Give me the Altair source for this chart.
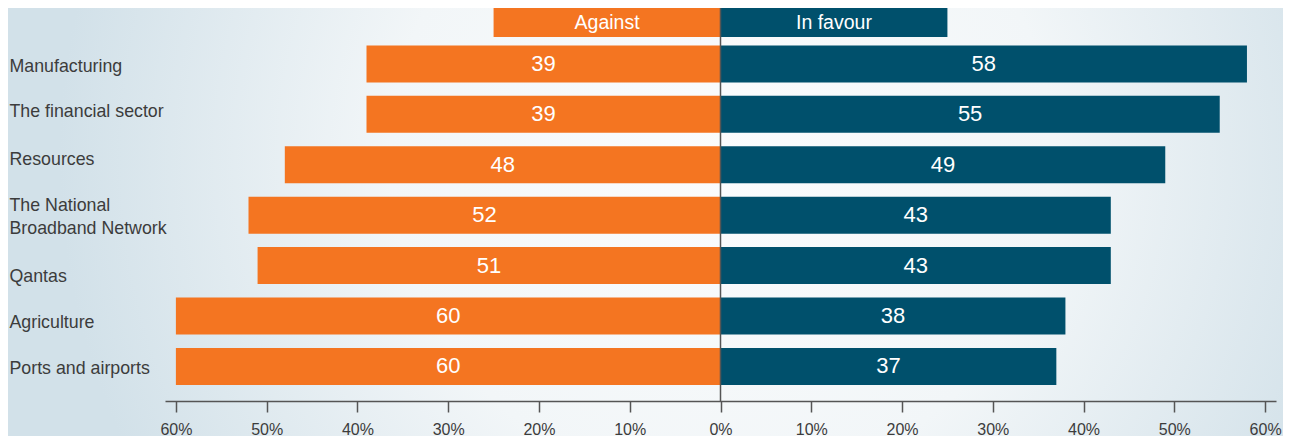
import altair as alt
import pandas as pd

categories = ["Manufacturing", "The financial sector", "Resources",
              "The National\nBroadband Network", "Qantas", "Agriculture",
              "Ports and airports"]
against = [39, 39, 48, 52, 51, 60, 60]
in_favour = [58, 55, 49, 43, 43, 38, 37]
sides = ["Against", "In favour"]
legend_values = [-25, 25]
tick_values = [-60, -50, -40, -30, -20, -10, 0, 10, 20, 30, 40, 50, 60]

ORANGE = "#F47521"
TEAL = "#00506C"
FONT = "Liberation Sans"

rows = []
for c, a, f in zip(categories, against, in_favour):
    rows.append({"category": c, "side": "Against", "value": a, "signed": -a})
    rows.append({"category": c, "side": "In favour", "value": f, "signed": f})
df = pd.DataFrame(rows)
leg = pd.DataFrame({"side": sides, "value": legend_values})

W, H = 1111, 393
PAD = {"left": 157, "top": 0, "right": 7, "bottom": 35}

xscale = alt.Scale(domain=[-61.2, 61.2], nice=False, zero=True)
color = alt.Color("side:N", scale=alt.Scale(domain=sides, range=[ORANGE, TEAL]), legend=None)

label_offset = {
    "condition": [
        {"test": "datum.value === 'Qantas'", "value": 11},
        {"test": "datum.value === 'Agriculture'", "value": 7},
        {"test": "datum.value === 'Resources'", "value": -5},
        {"test": "datum.value === 'The financial sector'", "value": -2},
        {"test": "datum.value === 'The National\\nBroadband Network'", "value": -9},
    ],
    "value": 3,
}

yenc = alt.Y(
    "category:N", sort=categories,
    scale=alt.Scale(paddingInner=0.266, paddingOuter=0.53, align=0.70),
    axis=alt.Axis(
        title=None, domain=False, ticks=False, grid=False, zindex=1,
        labelAlign="left", labelBaseline="middle", labelPadding=156,
        labelFont=FONT, labelFontSize=17.8, labelColor="#3c3c3c",
        labelLineHeight=23, labelExpr="split(datum.label, '\\n')",
        labelOffset=label_offset, labelLimit=300,
    ),
)

xaxis = alt.Axis(
    title=None, values=tick_values, grid=False, zindex=1,
    labelExpr="abs(datum.value) + '%'", labelFlush=False,
    labelFont=FONT, labelFontSize=16, labelColor="#3c3c3c", labelPadding=9,
    tickSize=11, tickColor="#555555", tickWidth=1.5,
    domainColor="#555555", domainWidth=1.5,
)

bg = alt.Chart(pd.DataFrame({"a": [0]})).mark_rect(
    fill={
        "gradient": "radial",
        "x1": 0.56, "y1": 0.45, "r1": 0,
        "x2": 0.56, "y2": 0.45, "r2": 0.52,
        "stops": [
            {"offset": 0, "color": "#FBFCFD"},
            {"offset": 0.5, "color": "#F2F6F8"},
            {"offset": 1, "color": "#D2E1E9"},
        ],
    }
).encode(
    x=alt.value(-PAD["left"]), x2=alt.value(W + PAD["right"]),
    y=alt.value(0), y2=alt.value(H + PAD["bottom"]),
)

base = alt.Chart(df)

bars = base.mark_bar().encode(
    x=alt.X("signed:Q", scale=xscale, axis=xaxis),
    y=yenc,
    color=color,
)

labels = base.transform_calculate(mid="datum.signed / 2").mark_text(
    font=FONT, fontSize=22, color="white", baseline="middle", align="center"
).encode(
    x=alt.X("mid:Q", scale=xscale),
    y=alt.Y("category:N", sort=categories),
    text="value:Q",
)

leg_bars = alt.Chart(leg).mark_rect().encode(
    x=alt.X("value:Q", scale=xscale),
    x2=alt.datum(0),
    y=alt.value(0), y2=alt.value(29),
    color=color,
)

leg_text = alt.Chart(leg).transform_calculate(mid="datum.value / 2").mark_text(
    font=FONT, fontSize=19.5, color="white", baseline="middle", align="center"
).encode(
    x=alt.X("mid:Q", scale=xscale),
    y=alt.value(14.5),
    text="side:N",
)

zero = alt.Chart(pd.DataFrame({"z": [0]})).mark_rule(
    color="#555555", strokeWidth=1.5
).encode(x=alt.X("z:Q", scale=xscale))

chart = alt.layer(bg, bars, labels, leg_bars, leg_text, zero).properties(
    width=W, height=H,
    autosize=alt.AutoSizeParams(type="none"),
    padding=PAD,
).configure_view(stroke=None).configure(background="#FFFFFF")

chart.save("out.html", embed_options={"renderer": "svg", "actions": False})
